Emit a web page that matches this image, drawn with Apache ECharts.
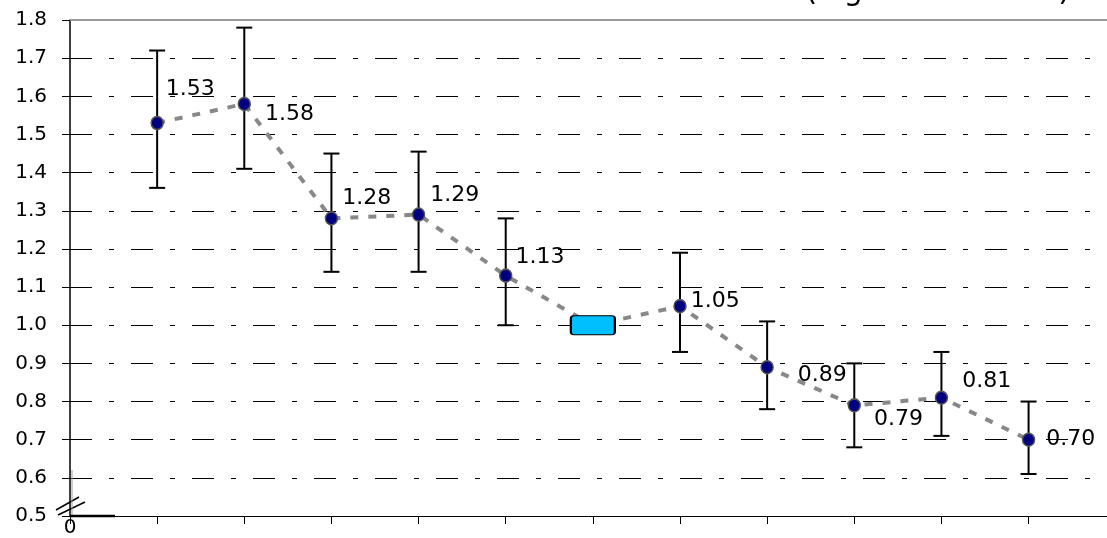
<!DOCTYPE html>
<html>
<head>
<meta charset="utf-8">
<script src="https://cdn.jsdelivr.net/npm/echarts@6/dist/echarts.min.js"></script>
<style>
  html, body { margin: 0; padding: 0; background: #fff; }
  #main { width: 1107px; height: 538px; }
</style>
</head>
<body>
<div id="main"></div>
<script>
// data
const positions = [1, 2, 3, 4, 5, 6, 7, 8, 9, 10, 11];
const values = [1.53, 1.58, 1.28, 1.29, 1.13, 1.0, 1.05, 0.89, 0.79, 0.81, 0.70];
const lowerBounds = [1.36, 1.41, 1.14, 1.14, 1.0, null, 0.93, 0.78, 0.68, 0.71, 0.61];
const upperBounds = [1.72, 1.78, 1.45, 1.455, 1.28, null, 1.19, 1.01, 0.90, 0.93, 0.80];
const referenceIndex = 5; // the blue box, no label / no error bar

// label offsets (px) for each point
const labelOffsets = [[2, -34], [14, 10], [4, -20], [5, -19], [3, -18], [0, 0], [4, -5], [24, 8], [13, 14], [14, -16], [11, 0]];

const FONT = "'DejaVu Sans', Verdana, sans-serif";
const boxPath = "path://M3,0 H41 Q44,0 44,3 V16 Q44,19 41,19 H3 Q0,19 0,16 V3 Q0,0 3,0 Z";

const chart = echarts.init(document.getElementById("main"));

const pointData = positions.map((x, i) => {
  if (i === referenceIndex) {
    return {
      value: [x, values[i]],
      symbol: boxPath,
      symbolSize: [44, 19],
      itemStyle: { color: "#00bfff", borderColor: "#000", borderWidth: 1.5 },
      label: { show: false },
    };
  }
  return {
    value: [x, values[i]],
    label: {
      show: true,
      position: "right",
      distance: 0,
      offset: labelOffsets[i],
      formatter: values[i].toFixed(2),
    },
  };
});

const barData = positions
  .map((x, i) => [x, lowerBounds[i], upperBounds[i]])
  .filter((d) => d[1] != null);

const option = {
  animation: false,
  backgroundColor: "#fff",
  title: {
    text: "(log-transformed)",
    right: 32,
    top: -28,
    textStyle: { fontFamily: FONT, fontSize: 30, fontWeight: "normal", color: "#000" },
  },
  grid: { left: 70, right: 0, top: 20, bottom: 21 },
  xAxis: [
    {
      type: "value",
      min: 0,
      max: 11.9,
      interval: 1,
      axisLine: { show: true, lineStyle: { color: "#000", width: 1 } },
      axisTick: { show: true, length: 8, lineStyle: { color: "#000", width: 1 } },
      axisLabel: {
        margin: 2,
        fontFamily: FONT,
        fontSize: 20,
        color: "#000",
        showMaxLabel: false,
        formatter: (v) => (v === 0 ? "0" : ""),
      },
      splitLine: { show: false },
    },
    {
      type: "value",
      position: "top",
      min: 0,
      max: 11.9,
      axisLine: { show: true, lineStyle: { color: "#999", width: 2 } },
      axisTick: { show: false },
      axisLabel: { show: false },
      splitLine: { show: false },
    },
  ],
  yAxis: {
    type: "value",
    min: 0.5,
    max: 1.8,
    interval: 0.1,
    axisLine: { show: true, lineStyle: { color: "#000", width: 1.5 } },
    axisTick: { show: true, length: 8, lineStyle: { color: "#000" } },
    axisLabel: {
      margin: 23,
      fontFamily: FONT,
      fontSize: 20,
      color: "#000",
      formatter: (v) => v.toFixed(1),
    },
    splitLine: {
      show: true,
      lineStyle: { color: "#000", width: 1, type: [22, 17, 5, 17] },
    },
  },
  series: [
    {
      name: "error",
      type: "custom",
      z: 1,
      data: barData,
      renderItem: (params, api) => {
        const x = api.value(0);
        const lo = api.coord([x, api.value(1)]);
        const hi = api.coord([x, api.value(2)]);
        const hw = 8;
        const st = { stroke: "#000", lineWidth: 2 };
        return {
          type: "group",
          children: [
            { type: "line", shape: { x1: lo[0], y1: lo[1], x2: hi[0], y2: hi[1] }, style: st },
            { type: "line", shape: { x1: lo[0] - hw, y1: lo[1], x2: lo[0] + hw, y2: lo[1] }, style: st },
            { type: "line", shape: { x1: hi[0] - hw, y1: hi[1], x2: hi[0] + hw, y2: hi[1] }, style: st },
          ],
        };
      },
    },
    {
      name: "values",
      type: "line",
      z: 3,
      data: pointData,
      symbol: "circle",
      symbolSize: [12, 13],
      showAllSymbol: true,
      lineStyle: { color: "#888", width: 4, type: [8, 10] },
      itemStyle: { color: "#000080", borderColor: "#555", borderWidth: 1.5 },
      label: {
        fontFamily: FONT,
        fontSize: 22,
        color: "#000",
      },
      emphasis: { disabled: true },
    },
  ],
};

chart.setOption(option);

// axis break decoration at the origin
const o = chart.convertToPixel({ gridIndex: 0 }, [0, 0.5]);
chart.setOption({
  graphic: [
    { type: "line", shape: { x1: o[0] - 14, y1: o[1] - 6, x2: o[0] + 9, y2: o[1] - 19 }, style: { stroke: "#000", lineWidth: 1.5 } },
    { type: "line", shape: { x1: o[0] - 12, y1: o[1] - 1, x2: o[0] + 15, y2: o[1] - 14 }, style: { stroke: "#000", lineWidth: 1.5 } },
    { type: "line", shape: { x1: o[0] + 2, y1: o[1] - 46, x2: o[0] + 2, y2: o[1] }, style: { stroke: "#999", lineWidth: 1 } },
    { type: "line", shape: { x1: o[0], y1: o[1], x2: o[0] + 45, y2: o[1] }, style: { stroke: "#000", lineWidth: 2.5 } },
  ],
});
</script>
</body>
</html>
